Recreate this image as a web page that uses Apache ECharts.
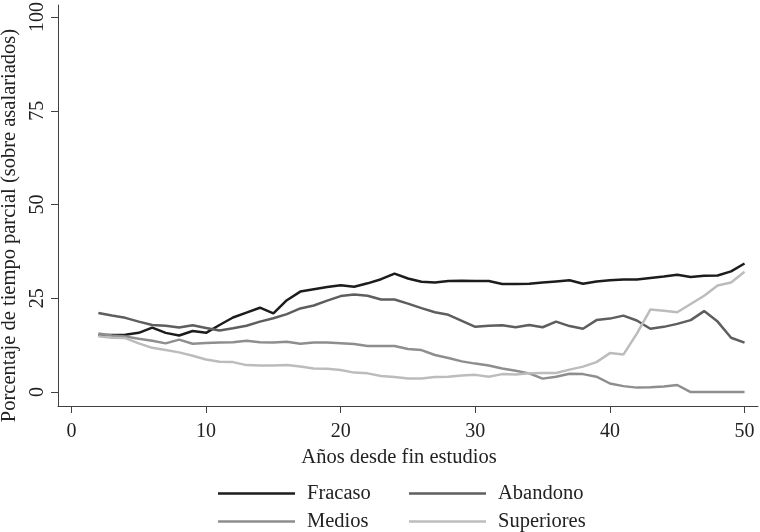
<!DOCTYPE html>
<html>
<head>
<meta charset="utf-8">
<script src="https://cdn.jsdelivr.net/npm/echarts@6/dist/echarts.min.js"></script>
<style>
  html, body { margin: 0; padding: 0; background: #fff; }
  #chart { width: 760px; height: 532px; }
</style>
</head>
<body>
<div id="chart"></div>
<script>
const years = [2, 3, 4, 5, 6, 7, 8, 9, 10, 11, 12, 13, 14, 15, 16, 17, 18, 19, 20, 21, 22, 23, 24, 25, 26,
  27, 28, 29, 30, 31, 32, 33, 34, 35, 36, 37, 38, 39, 40, 41, 42, 43, 44, 45, 46, 47, 48, 49, 50]

const fracaso = [15.2, 15.2, 15.3, 15.8, 17.2, 15.8, 15.1, 16.3, 15.8, 17.9, 19.9, 21.2, 22.5, 21.0, 24.5, 26.8, 27.4, 28.0, 28.5, 28.1, 29.0, 30.1, 31.6, 30.3, 29.4,
  29.2, 29.6, 29.7, 29.6, 29.6, 28.8, 28.8, 28.9, 29.2, 29.5, 29.8, 28.9, 29.5, 29.8, 30.0, 30.0, 30.4, 30.8, 31.3, 30.7, 31.0, 31.1, 32.2, 34.3]
const abandono = [21.1, 20.4, 19.8, 18.8, 17.9, 17.7, 17.2, 17.8, 17.1, 16.4, 17.0, 17.7, 18.8, 19.7, 20.8, 22.3, 23.1, 24.4, 25.6, 26.0, 25.7, 24.7, 24.7, 23.6, 22.4,
  21.3, 20.6, 19.0, 17.4, 17.7, 17.8, 17.3, 17.9, 17.3, 18.8, 17.6, 16.9, 19.2, 19.6, 20.4, 19.1, 16.9, 17.4, 18.2, 19.2, 21.6, 18.8, 14.5, 13.2]
const medios = [15.6, 15.1, 14.8, 14.2, 13.7, 13.0, 14.0, 12.9, 13.1, 13.2, 13.3, 13.7, 13.3, 13.2, 13.4, 12.9, 13.2, 13.2, 13.0, 12.8, 12.3, 12.3, 12.3, 11.5, 11.2,
  9.9, 9.1, 8.2, 7.6, 7.1, 6.3, 5.7, 5.0, 3.6, 4.1, 4.9, 4.8, 4.1, 2.3, 1.6, 1.2, 1.3, 1.5, 1.9, 0, 0, 0, 0, 0]
const superiores = [14.9, 14.5, 14.4, 13.0, 11.8, 11.2, 10.6, 9.7, 8.7, 8.1, 8.0, 7.2, 7.1, 7.1, 7.2, 6.8, 6.3, 6.2, 5.9, 5.2, 5.0, 4.3, 4.0, 3.6, 3.6,
  4.0, 4.1, 4.4, 4.6, 4.1, 4.8, 4.7, 5.0, 5.1, 5.1, 6.0, 6.8, 8.0, 10.4, 10.0, 15.6, 22.0, 21.7, 21.3, 23.5, 25.7, 28.4, 29.2, 32.1]

const xTicks = [0, 10, 20, 30, 40, 50]
const yTicks = [0, 25, 50, 75, 100]

const seriesNames = ['Fracaso', 'Abandono', 'Medios', 'Superiores']
const seriesValues = [fracaso, abandono, medios, superiores]
const seriesColors = ['#1c1c1c', '#5e5e5e', '#8e8e8e', '#bcbcbc']

const font = 'Liberation Serif, Times New Roman, serif'
const axisColor = '#404040'
const textColor = '#222'
const fontSize = 20.5
const tickFontSize = 20

const chart = echarts.init(document.getElementById('chart'), null, { renderer: 'canvas' })

function pairs (values) {
  return years.map((y, i) => [y, values[i]])
}

// one legend per item so the 2x2 layout lines up like the original
function legendAt (name, left, top) {
  return {
    data: [name],
    left,
    top,
    padding: 0,
    icon: 'rect',
    itemWidth: 77,
    itemHeight: 2.5,
    textStyle: { fontFamily: font, fontSize, color: textColor, padding: [0, 0, 0, 7] }
  }
}

const option = {
  backgroundColor: '#fff',
  animation: false,
  grid: { left: 58, right: 2, top: 5, bottom: 126, containLabel: false, outerBoundsMode: 'none' },
  legend: [
    legendAt('Fracaso', 218, 483),
    legendAt('Abandono', 409, 483),
    legendAt('Medios', 218, 511),
    legendAt('Superiores', 409, 511)
  ],
  xAxis: {
    type: 'value',
    min: -1,
    max: 51,
    name: 'Años desde fin estudios',
    nameLocation: 'middle',
    nameGap: 35,
    nameTextStyle: { fontFamily: font, fontSize, color: textColor, padding: [0, 18, 0, 0] },
    axisLine: { onZero: false, lineStyle: { color: axisColor, width: 1 } },
    axisTick: { customValues: xTicks, length: 7, lineStyle: { color: axisColor } },
    axisLabel: { customValues: xTicks, fontFamily: font, fontSize: tickFontSize, color: textColor, margin: 16 },
    splitLine: { show: false }
  },
  yAxis: {
    type: 'value',
    min: -3.7,
    max: 103.2,
    name: 'Porcentaje de tiempo parcial (sobre asalariados)',
    nameLocation: 'middle',
    nameGap: 29,
    nameTextStyle: { fontFamily: font, fontSize, color: textColor, padding: [0, 40, 0, 0] },
    axisLine: { show: true, onZero: false, lineStyle: { color: axisColor, width: 1 } },
    axisTick: { show: true, customValues: yTicks, length: 7, lineStyle: { color: axisColor } },
    axisLabel: { customValues: yTicks, rotate: 90, fontFamily: font, fontSize: tickFontSize, color: textColor, margin: 10 },
    splitLine: { show: false }
  },
  series: seriesNames.map((name, i) => ({
    name,
    type: 'line',
    data: pairs(seriesValues[i]),
    symbol: 'none',
    color: seriesColors[i],
    lineStyle: { color: seriesColors[i], width: 2.5 }
  }))
}

chart.setOption(option)
</script>
</body>
</html>
